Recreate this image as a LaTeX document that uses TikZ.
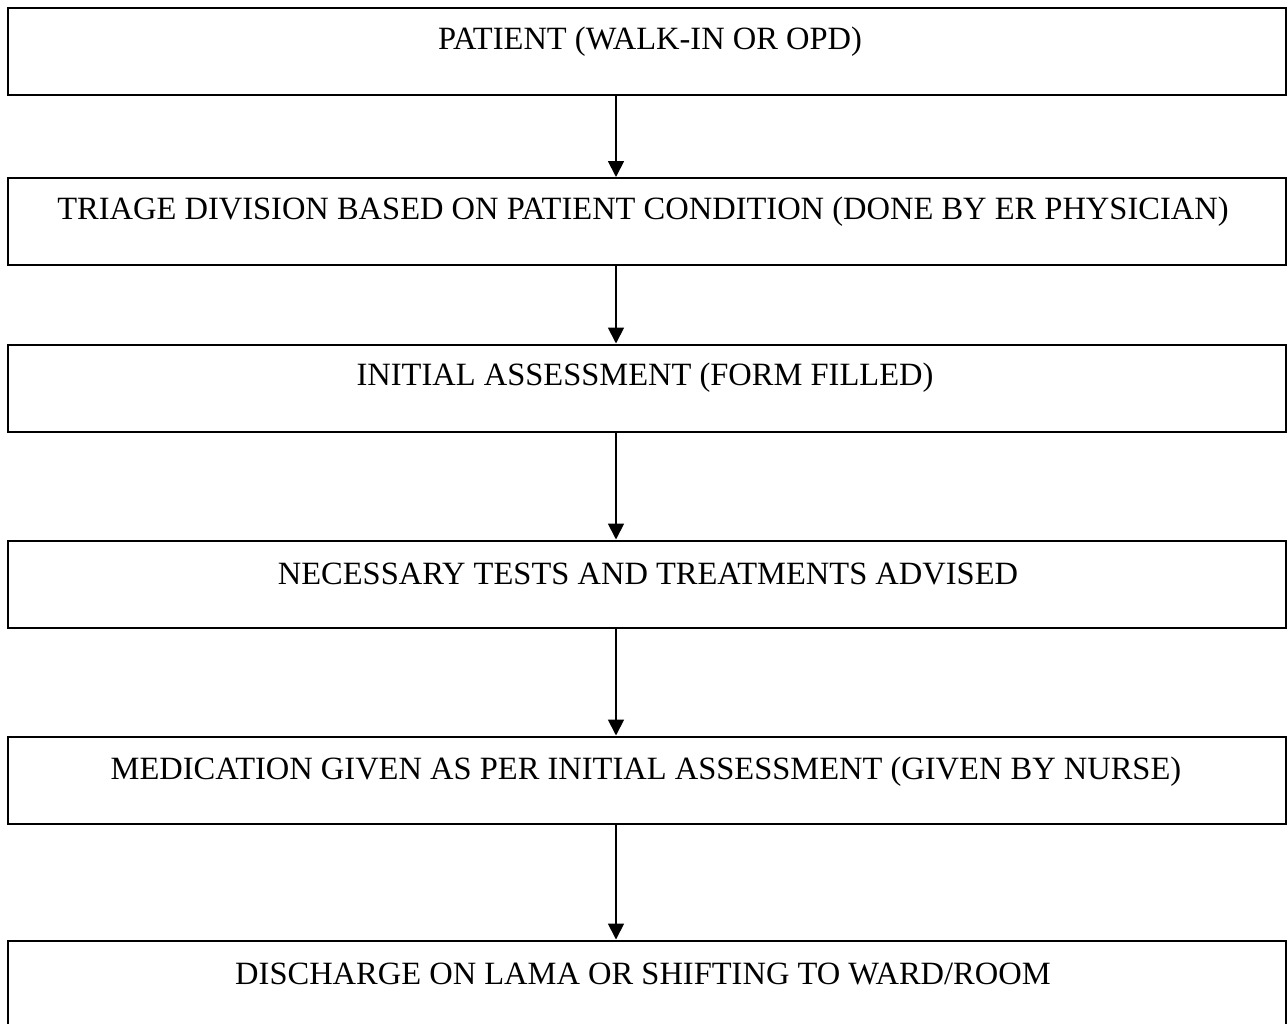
\documentclass[tikz,border=0pt]{standalone}
\usepackage{fontspec}
\setmainfont{Liberation Serif}
\usetikzlibrary{arrows.meta}

\begin{document}
\begin{tikzpicture}[x=0.5pt,y=-0.5pt,
	box/.style={draw,line width=1pt,minimum width=639pt,minimum height=43.5pt,inner sep=0pt},
	txt/.style={font=\fontsize{16.25}{19}\selectfont,inner sep=0pt},
	flow/.style={line width=0.9pt,-{Triangle[width=8pt,length=8pt]}}]
	\useasboundingbox (0,0) rectangle (1287,1024);
	\coordinate (ax) at (616,0);
	\node[box] (b1) at (647,51.5) {};
	\node[box] (b2) at (647,221.5) {};
	\node[box] (b3) at (647,388) {};
	\node[box] (b4) at (647,584) {};
	\node[box] (b5) at (647,780) {};
	\node[box] (b6) at (647,984) {};
	\node[txt] (t1) at (650,42) {PATIENT (WALK-IN OR OPD)};
	\node[txt] (t2) at (643,212) {TRIAGE DIVISION BASED ON PATIENT CONDITION (DONE BY ER PHYSICIAN)};
	\node[txt] (t3) at (645,378) {INITIAL ASSESSMENT (FORM FILLED)};
	\node[txt] (t4) at (648,574) {NECESSARY TESTS AND TREATMENTS ADVISED};
	\node[txt] (t5) at (646,772) {MEDICATION GIVEN AS PER INITIAL ASSESSMENT (GIVEN BY NURSE)};
	\node[txt] (t6) at (643,974) {DISCHARGE ON LAMA OR SHIFTING TO WARD/ROOM};
	\draw[flow] (b1.south -| ax) -- (b2.north -| ax);
	\draw[flow] (b2.south -| ax) -- (b3.north -| ax);
	\draw[flow] (b3.south -| ax) -- (b4.north -| ax);
	\draw[flow] (b4.south -| ax) -- (b5.north -| ax);
	\draw[flow] (b5.south -| ax) -- (b6.north -| ax);
\end{tikzpicture}
\end{document}
